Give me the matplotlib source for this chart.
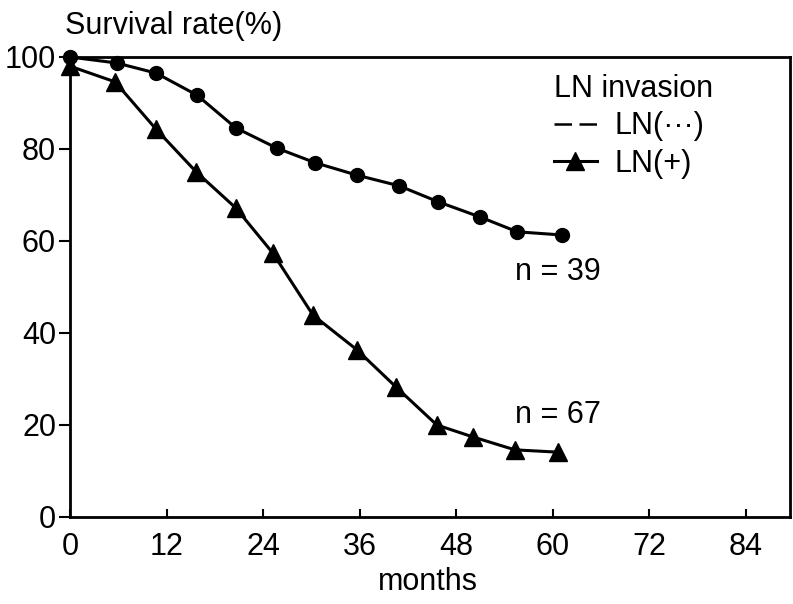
import numpy as np
import matplotlib
matplotlib.use('Agg')
from matplotlib import pyplot as plt
from matplotlib.lines import Line2D

# survival curves
months_neg = [0, 5.8, 10.7, 15.8, 20.6, 25.7, 30.5, 35.7, 40.9, 45.8, 51.0, 55.6, 61.2]
surv_neg = [100, 98.7, 96.5, 91.7, 84.6, 80.2, 77.0, 74.3, 72.0, 68.5, 65.2, 62.0, 61.3]

months_pos = [0, 5.6, 10.7, 15.7, 20.6, 25.2, 30.2, 35.7, 40.5, 45.6, 50.1, 55.3, 60.6]
surv_pos = [98, 94.6, 84.3, 75.0, 67.2, 57.4, 43.9, 36.3, 28.3, 20.0, 17.4, 14.6, 14.1]

x_ticks = [0, 12, 24, 36, 48, 60, 72, 84]
y_ticks = [0, 20, 40, 60, 80, 100]

plt.rcParams['font.family'] = ['Liberation Sans', 'DejaVu Sans']
fs = 22

fig = plt.figure(figsize=(7.93, 6.04), dpi=100)
ax = fig.add_axes([70 / 793, 1 - 517 / 604, 720 / 793, 460 / 604])

ax.plot(months_neg, surv_neg, color='black', lw=2.2, marker='o', ms=10, clip_on=False, zorder=3)
ax.plot(months_pos, surv_pos, color='black', lw=2.2, marker='^', ms=13, clip_on=False, zorder=3)

ax.set_xlim(0, 89.5)
ax.set_ylim(0, 100)
ax.set_xticks(x_ticks)
ax.set_yticks(y_ticks)
ax.tick_params(axis='x', direction='in', length=6, width=1.5, pad=11, labelsize=fs)
ax.tick_params(axis='y', direction='out', length=8, width=1.5, pad=2, labelsize=fs)
for s in ax.spines.values():
    s.set_linewidth(2)

ax.text(60.7, 53.3, 'n = 39', fontsize=fs, ha='center', va='center')
ax.text(60.7, 22.2, 'n = 67', fontsize=fs, ha='center', va='center')

fig.text(65 / 793, 1 - 26 / 604, 'Survival rate(%)', fontsize=fs, ha='left', va='center')
fig.text(428 / 793, 1 - 582 / 604, 'months', fontsize=fs, ha='center', va='center')

handles = [Line2D([], [], color='black', lw=1.8, ls=(0, (7, 3))),
           Line2D([], [], color='black', lw=2.2, marker='^', ms=13)]
leg = ax.legend(handles, ['LN(···)', 'LN(+)'], title='LN invasion', loc='upper left',
                bbox_to_anchor=(0.655, 0.99), frameon=False, fontsize=fs,
                title_fontsize=fs, handlelength=1.4, handletextpad=0.6,
                labelspacing=0.25, alignment='left', borderaxespad=0)

fig.savefig('out.png', dpi=100)
